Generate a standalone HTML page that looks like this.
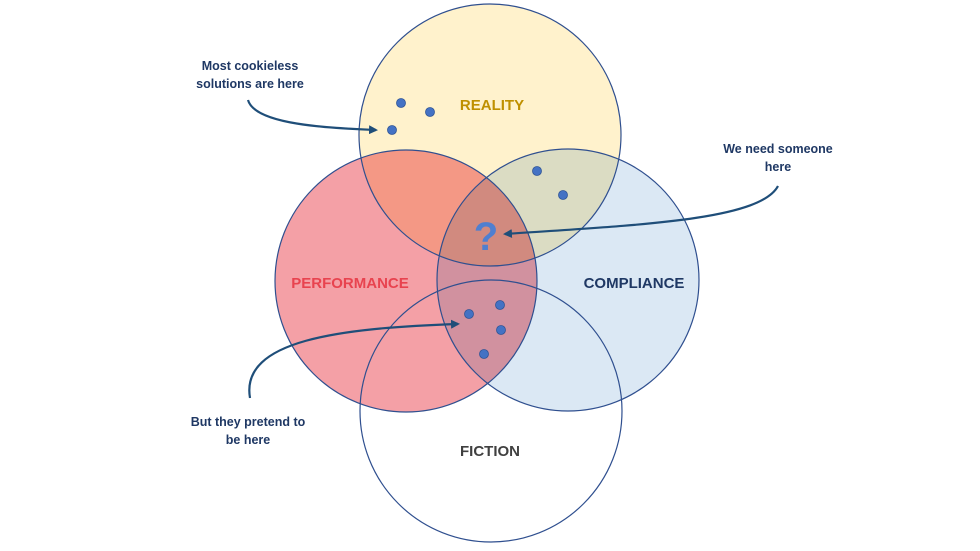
<!DOCTYPE html>
<html><head><meta charset="utf-8"><style>
html,body{margin:0;padding:0;background:#fff;}
svg{display:block}
.t{font-family:"Liberation Sans",sans-serif;font-weight:bold;font-size:15px;}
.h{font-family:"Liberation Sans",sans-serif;font-size:12.5px;fill:#1f3864;font-weight:bold;}
</style></head><body>
<svg width="980" height="551" viewBox="0 0 980 551" xmlns="http://www.w3.org/2000/svg">
<defs><marker id="a" markerWidth="9" markerHeight="9" refX="7" refY="4.5" orient="auto" markerUnits="userSpaceOnUse"><path d="M0,0 L9,4.5 L0,9 Z" fill="#1f4e79"/></marker></defs>
<g style="isolation:isolate">
<circle cx="490" cy="135" r="131" fill="#fff2cc"/>
<circle cx="406" cy="281" r="131" fill="#f4a0a6" style="mix-blend-mode:multiply"/>
<circle cx="568" cy="280" r="131" fill="#cfe0f1" style="mix-blend-mode:multiply" opacity="0.75"/>
</g>
<g fill="none" stroke="#2f4f8f" stroke-width="1.2">
<circle cx="490" cy="135" r="131"/>
<circle cx="406" cy="281" r="131"/>
<circle cx="568" cy="280" r="131"/>
<circle cx="491" cy="411" r="131"/>
</g>
<text class="t" x="492" y="110" text-anchor="middle" fill="#bf9000">REALITY</text>
<text class="t" x="350" y="288" text-anchor="middle" fill="#e8434f">PERFORMANCE</text>
<text class="t" x="634" y="288" text-anchor="middle" fill="#1f3864">COMPLIANCE</text>
<text class="t" x="490" y="456" text-anchor="middle" fill="#404040">FICTION</text>
<text x="486" y="250" text-anchor="middle" font-family="Liberation Sans,sans-serif" font-size="40" font-weight="bold" fill="#4f7fd0">?</text>
<g fill="#4472c4" stroke="#2f5597" stroke-width="0.8">
<circle cx="401" cy="103" r="4.5"/><circle cx="430" cy="112" r="4.5"/><circle cx="392" cy="130" r="4.5"/>
<circle cx="537" cy="171" r="4.5"/><circle cx="563" cy="195" r="4.5"/>
<circle cx="469" cy="314" r="4.5"/><circle cx="500" cy="305" r="4.5"/><circle cx="501" cy="330" r="4.5"/><circle cx="484" cy="354" r="4.5"/>
</g>
<g fill="none" stroke="#1f4e79" stroke-width="2.2">
<path d="M248,100 C255,125 330,128 376,130" marker-end="url(#a)"/>
<path d="M778,186 C760,220 640,225 505,234" marker-end="url(#a)"/>
<path d="M250,398 C240,340 340,328 458,324" marker-end="url(#a)"/>
</g>
<text class="h" x="250" y="70" text-anchor="middle">Most cookieless</text>
<text class="h" x="250" y="88" text-anchor="middle">solutions are here</text>
<text class="h" x="778" y="153" text-anchor="middle">We need someone</text>
<text class="h" x="778" y="171" text-anchor="middle">here</text>
<text class="h" x="248" y="426" text-anchor="middle">But they pretend to</text>
<text class="h" x="248" y="444" text-anchor="middle">be here</text>
</svg>
</body></html>
